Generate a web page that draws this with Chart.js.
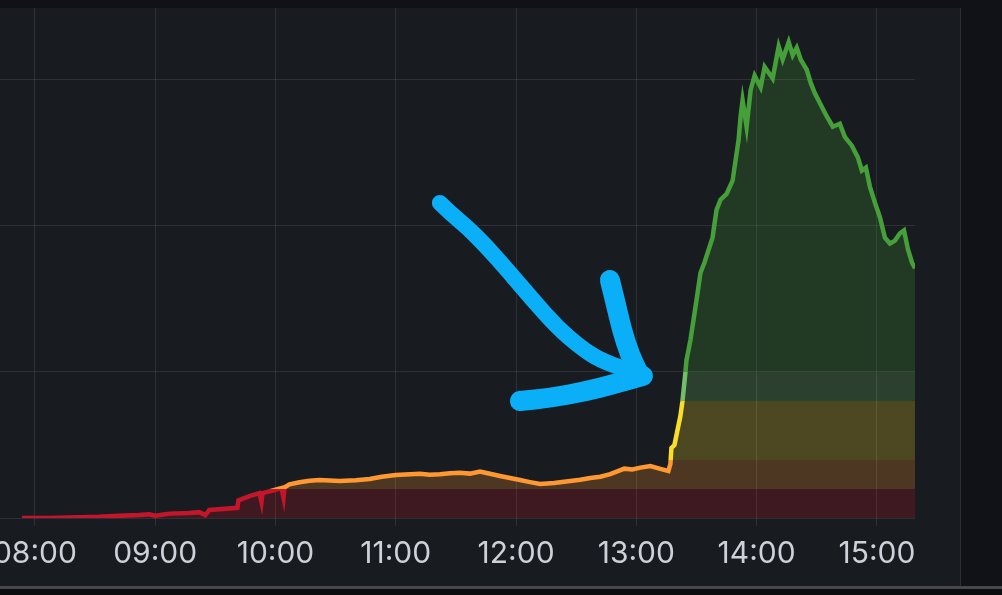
<!DOCTYPE html>
<html>
<head>
<meta charset="utf-8">
<script src="https://cdn.jsdelivr.net/npm/chart.js@4.4.1/dist/chart.umd.min.js"></script>
<style>
  html, body { margin: 0; padding: 0; }
  body { width: 1002px; height: 595px; background: #0b0c0e; position: relative; overflow: hidden; }
  #outer { position: absolute; left: 0; top: 0; width: 1002px; height: 586px; background: #111217; }
  #panel { position: absolute; left: 0; top: 8px; width: 960px; height: 578px; background: #181b1f; border-right: 1px solid #2c2e33; overflow: hidden; }
  #wrap { position: absolute; left: -100px; top: 0; width: 1060px; height: 578px; }
  #bottomline { position: absolute; left: 0; top: 586px; width: 1002px; height: 3px; background: #45474c; }
</style>
</head>
<body>
<div id="outer"></div>
<div id="panel"><div id="wrap"><canvas id="chart"></canvas></div></div>
<div id="bottomline"></div>
<script>
// time in minutes since midnight
const times = [
  473.5, 487.5, 502, 512, 522, 532, 537, 540, 547, 557, 562, 565, 567, 581, 581.5,
  587, 592, 593, 593.5, 599, 603, 604, 604.5, 607, 612, 617, 622, 632, 640, 647, 653, 660, 672,
  677, 682, 687, 692, 697, 702, 707, 712, 717, 722, 727, 732, 739, 747, 752, 757, 762, 767, 774, 778, 782, 787, 792, 796,
  797, 797.5, 799, 802, 803, 804.5, 805, 807, 810, 812, 814, 818, 820, 822, 825,
  828, 831, 832, 833, 835, 837, 839, 842, 844, 848, 851, 853, 856, 858, 860,
  862, 865, 867, 869, 872, 875, 878, 881.5, 884, 887.5, 890.5, 892.5, 894.5, 896.5,
  899, 901.5, 904, 906.5, 909, 911.5, 913.5, 915.5, 917.5, 919
];
const values = [
  0, 0, 0.5, 0.8, 1.5, 2, 2.5, 1.5, 3, 3.5, 4, 2, 5.5, 7, 12,
  15, 17, 11, 17, 19, 20.5, 14, 21, 23, 24.5, 25.5, 26, 25.3, 25.8, 26.7, 28.2, 29.5, 30.3,
  29.6, 30, 30.6, 31, 30.4, 31.8, 30.3, 28.8, 27.4, 26, 24.6, 23.3, 24, 25.3, 26.2, 27.4, 28.3, 30, 33.8, 33.2, 34.5, 35.6, 33.6, 32.2,
  37, 48, 50, 70, 80, 100, 108, 122, 149, 168, 175, 192, 211, 218, 222,
  231, 259, 275, 286, 268, 293, 303, 295, 309, 301, 323, 314, 326, 317, 322,
  314, 307, 298, 291, 283, 275, 268, 270, 261, 255, 247, 238, 240, 227,
  216, 206, 192, 188, 190, 195, 197, 184, 175, 171
];

const xTicks = [480, 540, 600, 660, 720, 780, 840, 900];
const yTicks = [0, 100, 200, 300];

const thresholdSteps = [20, 40, 80, 100];
const thresholdColors = ["#c4162a", "#ff9830", "#fade2a", "#73bf69", "#46a03a"];

// hand-drawn arrow, in (minute, value) pairs
const arrowShaft = [
  [682, 215.8], [687, 209], [695.5, 199.3], [705.5, 185.6], [716.9, 167.8], [728.4, 149.3],
  [740.4, 130.8], [751.9, 117.1], [761.8, 108.2], [775.3, 101.4], [783.3, 98.6]
];
const arrowHeadUpper = [[766.8, 163], [769.3, 149.3], [772.8, 128.8], [776.8, 111.6], [781.8, 97.3]];
const arrowHeadLower = [[783.3, 97.3], [769.3, 91.8], [754.3, 86.6], [736.9, 82.2], [721.9, 80.1]];

function withAlpha(hex, a) {
  const n = parseInt(hex.slice(1), 16);
  return `rgba(${(n >> 16) & 255},${(n >> 8) & 255},${n & 255},${a})`;
}

function thresholdGradient(chart, alpha) {
  const { ctx, chartArea, scales } = chart;
  if (!chartArea) return null;
  const top = chartArea.top;
  const bottom = chartArea.bottom;
  const g = ctx.createLinearGradient(0, bottom, 0, top);
  const frac = v => Math.min(1, Math.max(0, (bottom - scales.y.getPixelForValue(v)) / (bottom - top)));
  let start = 0;
  thresholdColors.forEach((c, i) => {
    const end = i < thresholdSteps.length ? frac(thresholdSteps[i]) : 1;
    g.addColorStop(start, withAlpha(c, alpha));
    g.addColorStop(end, withAlpha(c, alpha));
    start = end;
  });
  return g;
}

function fmtTime(m) {
  const h = String(Math.floor(m / 60)).padStart(2, "0");
  const mm = String(Math.round(m % 60)).padStart(2, "0");
  return `${h}:${mm}`;
}

const arrowPlugin = {
  id: "arrow",
  afterDatasetsDraw(chart) {
    const { ctx, scales } = chart;
    const stroke = (pts, width) => {
      const p = pts.map(([m, v]) => [scales.x.getPixelForValue(m), scales.y.getPixelForValue(v)]);
      ctx.beginPath();
      ctx.moveTo(p[0][0], p[0][1]);
      for (let i = 1; i < p.length - 1; i++) {
        const mx = (p[i][0] + p[i + 1][0]) / 2;
        const my = (p[i][1] + p[i + 1][1]) / 2;
        ctx.quadraticCurveTo(p[i][0], p[i][1], mx, my);
      }
      ctx.lineTo(p[p.length - 1][0], p[p.length - 1][1]);
      ctx.lineWidth = width;
      ctx.stroke();
    };
    ctx.save();
    ctx.strokeStyle = "#0aaff8";
    ctx.lineCap = "round";
    ctx.lineJoin = "round";
    stroke(arrowShaft, 16);
    stroke(arrowHeadUpper, 20);
    stroke(arrowHeadLower, 20);
    ctx.restore();
  }
};

const gridColor = "rgba(204,204,220,0.12)";

new Chart(document.getElementById("chart"), {
  type: "line",
  data: {
    datasets: [
      {
        data: times.map((t, i) => ({ x: t, y: values[i] })),
        borderWidth: 4.5,
        pointRadius: 0,
        tension: 0,
        fill: "origin",
        borderColor: ctx => thresholdGradient(ctx.chart, 1),
        backgroundColor: ctx => thresholdGradient(ctx.chart, 0.23),
      },
    ],
  },
  options: {
    responsive: true,
    maintainAspectRatio: false,
    animation: false,
    layout: { padding: { left: 0, right: 45, top: 0, bottom: 0 } },
    plugins: {
      legend: { display: false },
      tooltip: { enabled: false },
    },
    scales: {
      x: {
        type: "linear",
        min: 412.7,
        max: 919,
        afterBuildTicks: scale => { scale.ticks = xTicks.map(v => ({ value: v })); },
        afterFit: scale => { scale.height = 68; },
        grid: { color: gridColor, tickLength: 8, tickColor: gridColor },
        border: { display: false },
        ticks: {
          color: "#cfd0da",
          padding: 10,
          maxRotation: 0,
          font: { family: "Inter", size: 30 },
          callback: v => fmtTime(v),
        },
      },
      y: {
        display: true,
        min: 0,
        max: 349.3,
        afterBuildTicks: scale => { scale.ticks = yTicks.map(v => ({ value: v })); },
        afterFit: scale => { scale.width = 0; },
        grid: { color: gridColor, drawTicks: false },
        border: { display: false },
        ticks: { display: false },
      },
    },
  },
  plugins: [arrowPlugin],
});
</script>
</body>
</html>
